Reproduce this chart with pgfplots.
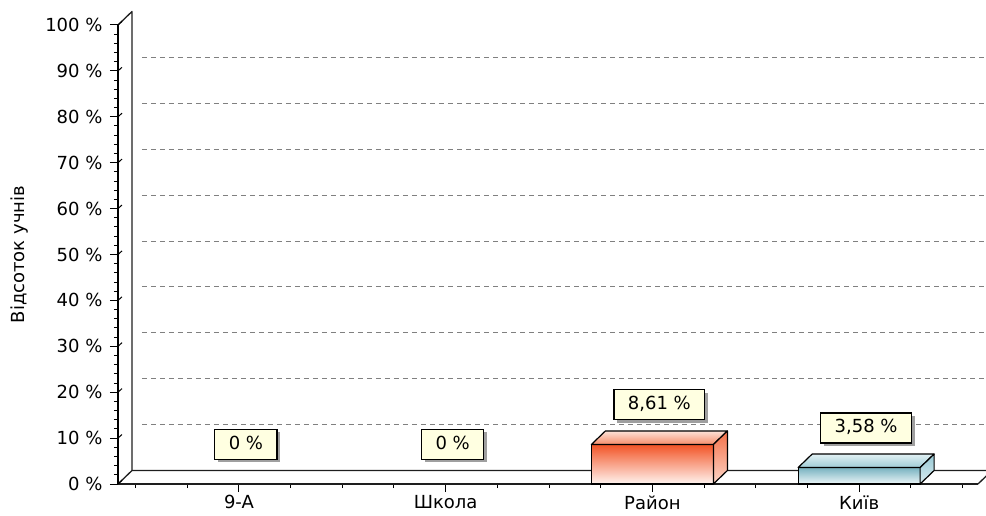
\documentclass[border=0pt]{standalone}
\usepackage{pgfplots}
\pgfplotsset{compat=1.18}
\usepackage{fontspec}
\setmainfont{DejaVu Sans}
\usetikzlibrary{shadows}
\definecolor{raF1}{RGB}{242,84,38}
\definecolor{raF2}{RGB}{255,244,240}
\definecolor{raT1}{RGB}{252,226,216}
\definecolor{raT2}{RGB}{245,140,105}
\definecolor{raS1}{RGB}{244,112,72}
\definecolor{raS2}{RGB}{252,214,200}
\definecolor{kyF1}{RGB}{120,178,192}
\definecolor{kyF2}{RGB}{236,246,248}
\definecolor{kyT1}{RGB}{226,241,244}
\definecolor{kyT2}{RGB}{158,204,214}
\definecolor{kyS1}{RGB}{150,200,212}
\definecolor{kyS2}{RGB}{218,236,240}
\definecolor{labfill}{RGB}{255,255,225}
\definecolor{framec}{RGB}{30,30,30}
\pgfdeclareplotmark{empty}{}
\newcommand{\chf}{\fontsize{18}{21}\selectfont}
\begin{document}
\begin{tikzpicture}
\begin{axis}[
  at={(0,0)}, anchor=south west,
  scale only axis, width=860pt, height=459pt,
  xmin=-0.585, xmax=3.575, ymin=0, ymax=100,
  clip=false,
  axis x line*=bottom, axis y line*=left,
  x axis line style={-, line width=1.3pt, framec},
  y axis line style={-, line width=2.6pt, black},
  xtick={0,1,2,3}, xticklabels={9-A,Школа,Район,Київ},
  minor xtick={-0.5,-0.25,...,3.5},
  ytick={0,10,...,100}, minor y tick num=4,
  yticklabel={\pgfmathprintnumber{\tick}~\%},
  yticklabel style={xshift=-4pt},
  tick align=outside, major tick length=8pt, minor tick length=4pt,
  tick style={black, line width=1pt},
  /pgf/number format/assume math mode=true,
  tick label style={font=\chf},
  ylabel={Відсоток учнів},
  every axis y label/.style={at={(rel axis cs:-0.114,0.5)}, anchor=center, rotate=90, font=\chf},
]
% back wall and floor
\draw[line width=1.3pt, framec, line join=round]
  (axis cs:-0.585,0) -- ([shift={(14pt,13.5pt)}]axis cs:-0.585,0)
  -- ([shift={(14pt,13.5pt)}]axis cs:-0.585,100) -- (axis cs:-0.585,100);
\draw[line width=1.3pt, framec, line join=round]
  ([shift={(14pt,13.5pt)}]axis cs:-0.585,0) -- ([shift={(14pt,13.5pt)}]axis cs:3.575,0)
  -- (axis cs:3.575,0);
\pgfplotsinvokeforeach{10,20,30,40,50,60,70,80,90}{
  \draw[gray, line width=1pt, dash pattern=on 5pt off 4pt]
    ([shift={(24pt,13.5pt)}]axis cs:-0.585,#1) -- ([shift={(14pt,13.5pt)}]axis cs:3.575,#1);
}
\pgfplotsinvokeforeach{0,10,20,30,40,50,60,70,80,90,100}{
  \draw[black, line width=1pt] (axis cs:-0.585,#1) -- ++(4pt,3.6pt);
}
% Район
\addplot[ybar, bar width=0.59, bar shift=0pt, draw=black, line width=1.2pt,
  top color=raF1, bottom color=raF2] coordinates {(2,8.61)};
\addplot[scatter, only marks, mark=empty,
  visualization depends on={rawy \as \rawy},
  scatter/@pre marker code/.code={%
    \pgfmathsetmacro\hh{-\rawy*4.59}%
    \pgfmathsetmacro\hb{13.5-\rawy*4.59}%
    \draw[line width=1.2pt, line join=round, top color=raT1, bottom color=raT2]
      (-61pt,0pt) -- (61pt,0pt) -- (75pt,13.5pt) -- (-47pt,13.5pt) -- cycle;
    \draw[line width=1.2pt, line join=round, top color=raS1, bottom color=raS2]
      (61pt,0pt) -- (75pt,13.5pt) -- (75pt,\hb pt) -- (61pt,\hh pt) -- cycle;
  },
  scatter/@post marker code/.code={}] coordinates {(2,8.61)};
% Київ
\addplot[ybar, bar width=0.59, bar shift=0pt, draw=black, line width=1.2pt,
  top color=kyF1, bottom color=kyF2] coordinates {(3,3.58)};
\addplot[scatter, only marks, mark=empty,
  visualization depends on={rawy \as \rawy},
  scatter/@pre marker code/.code={%
    \pgfmathsetmacro\hh{-\rawy*4.59}%
    \pgfmathsetmacro\hb{13.5-\rawy*4.59}%
    \draw[line width=1.2pt, line join=round, top color=kyT1, bottom color=kyT2]
      (-61pt,0pt) -- (61pt,0pt) -- (75pt,13.5pt) -- (-47pt,13.5pt) -- cycle;
    \draw[line width=1.2pt, line join=round, top color=kyS1, bottom color=kyS2]
      (61pt,0pt) -- (75pt,13.5pt) -- (75pt,\hb pt) -- (61pt,\hh pt) -- cycle;
  },
  scatter/@post marker code/.code={}] coordinates {(3,3.58)};
% labels
\addplot[scatter, only marks, mark=empty, point meta=y,
  scatter/@pre marker code/.code={\draw[white, line width=1.2pt] (7pt,3pt) -- (7pt,16pt);},
  scatter/@post marker code/.code={},
  nodes near coords={\pgfmathprintnumber[assume math mode=true, use comma, fixed, precision=2]{\pgfplotspointmeta}~\%},
  every node near coord/.append style={anchor=south, xshift=7pt, yshift=24pt,
    fill=labfill, draw=black, line width=1.2pt, inner xsep=14pt, inner ysep=7pt,
    text height=13pt, text depth=3pt, font=\chf, text=black,
    drop shadow={shadow xshift=3pt, shadow yshift=-3pt, fill=gray!75, draw=none, opacity=1}},
] coordinates {(0,0) (1,0) (2,8.61) (3,3.58)};
\end{axis}
\pgfresetboundingbox
\path[use as bounding box] (-118pt,-31pt) rectangle (868pt,484pt);
\end{tikzpicture}
\end{document}
